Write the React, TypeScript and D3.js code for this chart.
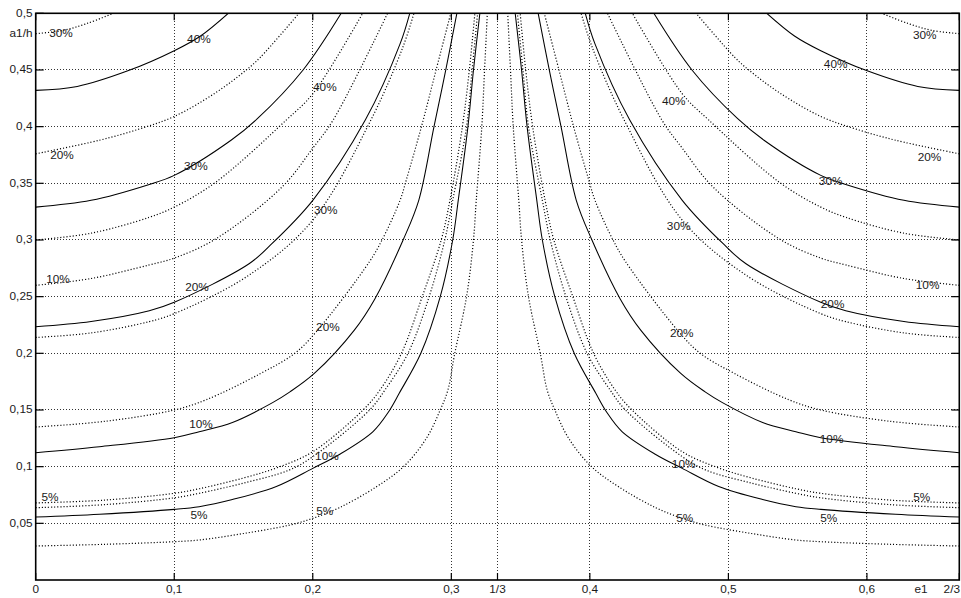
import React from 'react';
import * as d3 from 'd3';

// ---- axis ticks ----
const xTickValues = [0, 0.1, 0.2, 0.3, 1 / 3, 0.4, 0.5, 0.6, 2 / 3];
const xTickLabels = ['0', '0,1', '0,2', '0,3', '1/3', '0,4', '0,5', '0,6', '2/3'];
const yTickValues = [0.05, 0.1, 0.15, 0.2, 0.25, 0.3, 0.35, 0.4, 0.45, 0.5];
const yTickLabels = ['0,05', '0,1', '0,15', '0,2', '0,25', '0,3', '0,35', '0,4', '0,45', '0,5'];
const xGridValues = [0.1, 0.2, 0.3, 1 / 3, 0.4, 0.5, 0.6];
const yGridValues = [0.05, 0.1, 0.15, 0.2, 0.25, 0.3, 0.35, 0.4, 0.45];

// ---- solid curves (left half / right half), [e1, a1/h] ----
const solid40L = [[0,0.432],[0.03,0.4355],[0.066,0.449],[0.1,0.467],[0.119,0.48],[0.139,0.5]];
const solid40R = [[0.6667,0.432],[0.6367,0.4355],[0.6007,0.449],[0.5667,0.467],[0.5477,0.48],[0.5277,0.5]];
const solid30L = [[0,0.329],[0.04,0.335],[0.082,0.349],[0.1,0.357],[0.141,0.388],[0.16,0.407],[0.193,0.45],[0.2205,0.5]];
const solid30R = [[0.6667,0.329],[0.6267,0.335],[0.5847,0.349],[0.5667,0.357],[0.5257,0.388],[0.5067,0.407],[0.4737,0.45],[0.4462,0.5]];
const solid20L = [[0,0.2234],[0.04,0.228],[0.082,0.2375],[0.1,0.245],[0.154,0.279],[0.169,0.295],[0.2,0.335],[0.238,0.406],[0.263,0.473],[0.27,0.5]];
const solid20R = [[0.6667,0.2234],[0.6267,0.228],[0.5847,0.2375],[0.5667,0.245],[0.5127,0.279],[0.4977,0.295],[0.4667,0.335],[0.4287,0.406],[0.4037,0.473],[0.3967,0.5]];
const solid10L = [[0,0.1123],[0.046,0.1176],[0.1,0.1255],[0.118,0.1308],[0.142,0.139],[0.171,0.1565],[0.1835,0.166],[0.2013,0.1825],[0.23,0.2205],[0.2448,0.248],[0.2652,0.3],[0.2765,0.335],[0.2875,0.4],[0.296,0.45],[0.304,0.5]];
const solid10R = [[0.6667,0.1123],[0.6207,0.1176],[0.5667,0.1255],[0.5487,0.1308],[0.5247,0.139],[0.4957,0.1565],[0.4832,0.166],[0.4654,0.1825],[0.4367,0.2205],[0.4219,0.248],[0.4015,0.3],[0.3902,0.335],[0.3792,0.4],[0.3707,0.45],[0.3627,0.5]];
const solid5L = [[0,0.0555],[0.046,0.058],[0.1,0.0623],[0.118,0.0647],[0.142,0.071],[0.1737,0.0825],[0.2,0.0985],[0.2195,0.111],[0.2435,0.131],[0.2545,0.148],[0.2625,0.165],[0.278,0.2],[0.292,0.25],[0.301,0.3],[0.305,0.335],[0.312,0.4],[0.316,0.45],[0.3206,0.5]];
const solid5R = [[0.6667,0.0555],[0.6207,0.058],[0.5667,0.0623],[0.5487,0.0647],[0.5247,0.071],[0.493,0.0825],[0.4667,0.0985],[0.4472,0.111],[0.4232,0.131],[0.4122,0.148],[0.4042,0.165],[0.3887,0.2],[0.3747,0.25],[0.3657,0.3],[0.3617,0.335],[0.3547,0.4],[0.3507,0.45],[0.3461,0.5]];

// ---- dotted curves, family A ----
const dotA30L = [[0,0.482],[0.02,0.485],[0.037,0.491],[0.056,0.5]];
const dotA30R = [[0.6667,0.482],[0.6467,0.485],[0.6297,0.491],[0.6107,0.5]];
const dotA20L = [[0,0.376],[0.046,0.388],[0.075,0.398],[0.1,0.409],[0.13,0.43],[0.152,0.45],[0.162,0.461],[0.19,0.5]];
const dotA20R = [[0.6667,0.376],[0.6207,0.388],[0.5917,0.398],[0.5667,0.409],[0.5367,0.43],[0.5147,0.45],[0.5047,0.461],[0.4767,0.5]];
const dotA10L = [[0,0.26],[0.04,0.266],[0.082,0.278],[0.1,0.284],[0.13,0.301],[0.178,0.347],[0.2,0.381],[0.2146,0.4056],[0.254,0.5]];
const dotA10R = [[0.6667,0.26],[0.6267,0.266],[0.5847,0.278],[0.5667,0.284],[0.5367,0.301],[0.4887,0.347],[0.4667,0.381],[0.4521,0.4056],[0.4127,0.5]];
const dotA5L = [[0,0.068],[0.05,0.0705],[0.1,0.0765],[0.118,0.0805],[0.15,0.09],[0.174,0.099],[0.2,0.1132],[0.2363,0.15],[0.2484,0.1675],[0.264,0.2],[0.279,0.25],[0.2927,0.3],[0.299,0.335],[0.308,0.4],[0.313,0.45],[0.317,0.5]];
const dotA5R = [[0.6667,0.068],[0.6167,0.0705],[0.5667,0.0765],[0.5487,0.0805],[0.5167,0.09],[0.4927,0.099],[0.4667,0.1132],[0.4304,0.15],[0.4183,0.1675],[0.4027,0.2],[0.3877,0.25],[0.374,0.3],[0.3677,0.335],[0.3587,0.4],[0.3537,0.45],[0.3497,0.5]];

// ---- dotted curves, family B ----
const dotB40L = [[0,0.3],[0.04,0.306],[0.082,0.32],[0.1,0.329],[0.13,0.351],[0.181,0.406],[0.2,0.429],[0.236,0.5]];
const dotB40R = [[0.6667,0.3],[0.6267,0.306],[0.5847,0.32],[0.5667,0.329],[0.5367,0.351],[0.4857,0.406],[0.4667,0.429],[0.4307,0.5]];
const dotB30L = [[0,0.214],[0.04,0.218],[0.082,0.228],[0.1,0.235],[0.154,0.269],[0.2,0.3175],[0.242,0.406],[0.265,0.47],[0.273,0.5]];
const dotB30R = [[0.6667,0.214],[0.6267,0.218],[0.5847,0.228],[0.5667,0.235],[0.5127,0.269],[0.4667,0.3175],[0.4247,0.406],[0.4017,0.47],[0.3937,0.5]];
const dotB20L = [[0,0.135],[0.05,0.14],[0.1,0.15],[0.123,0.159],[0.162,0.182],[0.187,0.2],[0.2025,0.219],[0.241,0.281],[0.25,0.3],[0.263,0.335],[0.2675,0.353],[0.278,0.398],[0.289,0.45],[0.2996,0.5]];
const dotB20R = [[0.6667,0.135],[0.6167,0.14],[0.5667,0.15],[0.5437,0.159],[0.5047,0.182],[0.4797,0.2],[0.4642,0.219],[0.4257,0.281],[0.4167,0.3],[0.4037,0.335],[0.3992,0.353],[0.3887,0.398],[0.3777,0.45],[0.3671,0.5]];
const dotB10L = [[0,0.0638],[0.05,0.0665],[0.1,0.0725],[0.118,0.0765],[0.15,0.0855],[0.183,0.097],[0.2,0.1088],[0.241,0.15],[0.252,0.1675],[0.2687,0.2],[0.284,0.25],[0.2953,0.3],[0.301,0.335],[0.311,0.4],[0.315,0.45],[0.319,0.5]];
const dotB10R = [[0.6667,0.0638],[0.6167,0.0665],[0.5667,0.0725],[0.5487,0.0765],[0.5167,0.0855],[0.4837,0.097],[0.4667,0.1088],[0.4257,0.15],[0.4147,0.1675],[0.398,0.2],[0.3827,0.25],[0.3714,0.3],[0.3657,0.335],[0.3557,0.4],[0.3517,0.45],[0.3477,0.5]];
const dotB5L = [[0,0.03],[0.05,0.0315],[0.1,0.0338],[0.118,0.0353],[0.15,0.041],[0.1834,0.0485],[0.2,0.0544],[0.2195,0.064],[0.246,0.0823],[0.2655,0.1],[0.282,0.125],[0.292,0.15],[0.2975,0.1675],[0.3025,0.2],[0.311,0.25],[0.316,0.3],[0.318,0.335],[0.322,0.4],[0.324,0.45],[0.326,0.5]];
const dotB5R = [[0.6667,0.03],[0.6167,0.0315],[0.5667,0.0338],[0.5487,0.0353],[0.5167,0.041],[0.4833,0.0485],[0.4667,0.0544],[0.4472,0.064],[0.4207,0.0823],[0.4012,0.1],[0.3847,0.125],[0.3747,0.15],[0.3692,0.1675],[0.3642,0.2],[0.3557,0.25],[0.3507,0.3],[0.3487,0.335],[0.3447,0.4],[0.3427,0.45],[0.3407,0.5]];

// ---- contour labels [e1, a1/h] and their texts ----
const labelPos = [
  [0.0183,0.4824],[0.1178,0.4771],[0.2087,0.4347],[0.019,0.3748],[0.1156,0.3651],[0.2094,0.3263],
  [0.0161,0.2654],[0.1164,0.2584],[0.2109,0.2231],[0.1193,0.1376],[0.2102,0.1093],[0.0103,0.0732],
  [0.1178,0.0573],[0.2087,0.06],
  [0.6417,0.4806],[0.5774,0.455],[0.4605,0.4224],[0.6452,0.373],[0.5738,0.3519],[0.4641,0.3122],
  [0.6438,0.2601],[0.5752,0.2434],[0.4663,0.2178],[0.5745,0.1243],[0.4677,0.1023],[0.6395,0.0732],
  [0.5724,0.0547],[0.4685,0.0547],
];
const labelText = [
  '30%','40%','40%','20%','30%','30%','10%','20%','20%','10%','10%','5%','5%','5%',
  '30%','40%','40%','20%','30%','30%','10%','20%','20%','10%','10%','5%','5%','5%',
];

const solidCurves = [solid40L, solid40R, solid30L, solid30R, solid20L, solid20R, solid10L, solid10R, solid5L, solid5R];
const dottedCurves = [dotA30L, dotA30R, dotA20L, dotA20R, dotA10L, dotA10R, dotA5L, dotA5R,
  dotB40L, dotB40R, dotB30L, dotB30R, dotB20L, dotB20R, dotB10L, dotB10R, dotB5L, dotB5R];

const FONT = 'Liberation Sans, Arial, Helvetica, sans-serif';
const SX = 1.18;

function T({ x, y, anchor, children }: { x: number; y: number; anchor: string; children: any }) {
  return (
    <text transform={`translate(${x},${y}) scale(${SX},1)`} textAnchor={anchor} dy="0.35em"
      fontSize={10} fontFamily={FONT} fill="#1a1a1a">{children}</text>
  );
}

export default function App() {
  const x = d3.scaleLinear().domain([0, 2 / 3]).range([35.7, 959.3]);
  const y = d3.scaleLinear().domain([0, 0.5]).range([580, 13.3]);
  const line = d3.line<number[]>().x(d => x(d[0])).y(d => y(d[1])).curve(d3.curveCatmullRom.alpha(0.5));
  const [x0, x1] = x.range();
  const [y0, y1] = y.range();

  return (
    <svg width={961} height={598} style={{ position: 'absolute', left: 0, top: 0, background: '#fff' }}>
      <defs>
        <clipPath id="plot"><rect x={x0} y={y1} width={x1 - x0} height={y0 - y1} /></clipPath>
      </defs>
      <rect x={0} y={0} width={961} height={598} fill="#fff" />
      {/* grid */}
      <g stroke="#333" strokeWidth={1} strokeDasharray="1,2" shapeRendering="crispEdges">
        {xGridValues.map((v, i) => <line key={'gx' + i} x1={x(v)} x2={x(v)} y1={y0} y2={y1} />)}
        {yGridValues.map((v, i) => <line key={'gy' + i} x1={x0} x2={x1} y1={y(v)} y2={y(v)} />)}
      </g>
      {/* curves */}
      <g clipPath="url(#plot)" fill="none">
        {solidCurves.map((c, i) => <path key={'s' + i} d={line(c) || ''} stroke="#000" strokeWidth={1.05} />)}
        {dottedCurves.map((c, i) => <path key={'d' + i} d={line(c) || ''} stroke="#000" strokeWidth={1.2} strokeDasharray="1.1,2" />)}
      </g>
      {/* contour labels */}
      {labelPos.map((p, i) => <T key={'l' + i} x={x(p[0])} y={y(p[1])} anchor="middle">{labelText[i]}</T>)}
      {/* frame */}
      <rect x={x0} y={y1} width={x1 - x0} height={y0 - y1} fill="none" stroke="#000" strokeWidth={1.6} />
      {/* ticks */}
      <g stroke="#000" strokeWidth={1.2}>
        {xTickValues.map((v, i) => (
          <g key={'xt' + i}>
            <line x1={x(v)} x2={x(v)} y1={y0} y2={y0 - 7} />
            <line x1={x(v)} x2={x(v)} y1={y1} y2={y1 + 7} />
          </g>
        ))}
        {yTickValues.map((v, i) => (
          <g key={'yt' + i}>
            <line x1={x0} x2={x0 + 8} y1={y(v)} y2={y(v)} />
            <line x1={x1} x2={x1 - 8} y1={y(v)} y2={y(v)} />
          </g>
        ))}
      </g>
      {/* tick labels */}
      {xTickValues.map((v, i) => (
        <T key={'xl' + i} x={i === xTickValues.length - 1 ? 960 : x(v)} y={589}
          anchor={i === xTickValues.length - 1 ? 'end' : 'middle'}>{xTickLabels[i]}</T>
      ))}
      {yTickValues.map((v, i) => <T key={'yl' + i} x={32.5} y={y(v)} anchor="end">{yTickLabels[i]}</T>)}
      <T x={921} y={589} anchor="middle">e1</T>
      <T x={32.5} y={33} anchor="end">a1/h</T>
    </svg>
  );
}
